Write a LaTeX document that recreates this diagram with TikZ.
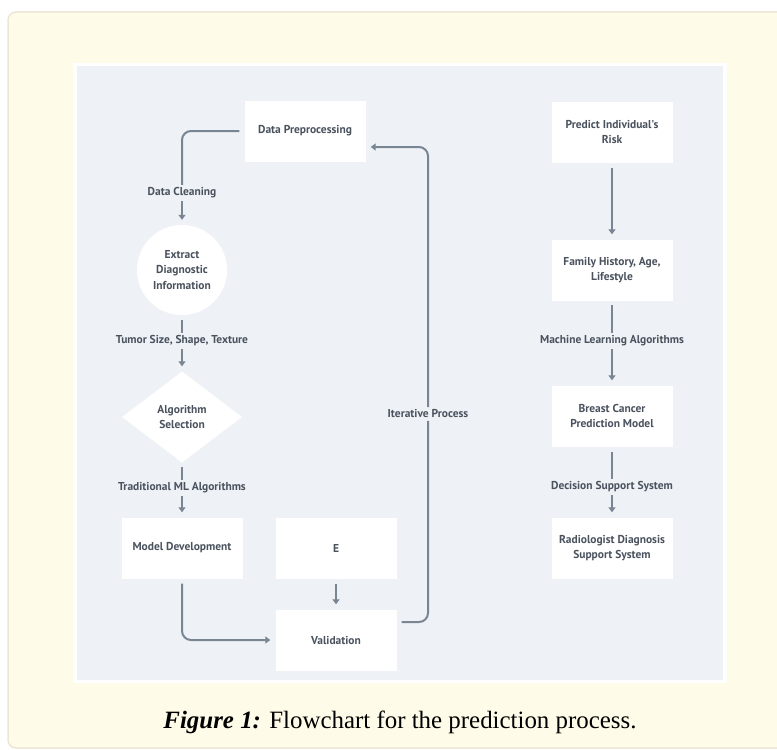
\documentclass[tikz,border=0pt]{standalone}
\usepackage{fontspec}
\setmainfont{Liberation Serif}
\newfontfamily\flowfont{PT Sans}
\usetikzlibrary{arrows.meta,shapes.geometric}
\definecolor{cream}{HTML}{FFFBE9}
\definecolor{creamline}{HTML}{ECE7D5}
\definecolor{panel}{HTML}{EEF2F6}
\definecolor{flowline}{HTML}{7A8593}
\definecolor{flowtext}{HTML}{4A525E}

\begin{document}
\begin{tikzpicture}[
        x=1bp, y=-1bp,
        every node/.style={font=\flowfont\bfseries\fontsize{11.5}{15.5}\selectfont,
            text=flowtext},
        box/.style={fill=white, minimum width=121bp, minimum height=61bp,
            inner sep=2bp, align=center},
        roundbox/.style={circle, fill=white, minimum size=90bp, inner sep=0pt,
            align=center},
        choice/.style={diamond, fill=white, aspect=1.32, minimum width=120bp,
            minimum height=91bp, inner sep=0pt, align=center},
        tag/.style={fill=panel, inner sep=2.5bp},
        line/.style={draw=flowline, line width=2bp, rounded corners=9bp},
        arrow/.style={line, -{Triangle[length=5bp,width=7bp]}, shorten >=5bp},
    ]
    % frame
    \useasboundingbox (0,0) rectangle (777,750);
    \clip (0,0) rectangle (777,750);
    \filldraw[fill=cream, draw=creamline, line width=1.5bp, rounded corners=8bp]
                (8,12) rectangle (800,748);
    \fill[white] (73,63) rectangle (727,683);
    \fill[panel] (77,66) rectangle (723,680);

    % left column
    \node[box] (prep) at (305,131) {Data Preprocessing};
    \node[roundbox] (extract) at (182,270) {Extract\\Diagnostic\\Information};
    \node[choice] (select) at (182,417) {Algorithm\\Selection};
    \node[box] (model) at (182,548) {Model Development};
    \node[box] (eval) at (336,548) {E};
    \node[box] (valid) at (336,640) {Validation};

    \node[tag] (clean) at (182,193) {Data Cleaning};
    \node[tag] (tumor) at (182,341) {Tumor Size, Shape, Texture};
    \node[tag] (trad) at (182,488) {Traditional ML Algorithms};

    % right column
    \node[box] (risk) at (612,132) {Predict Individual's\\Risk};
    \node[box] (history) at (612,270) {Family History, Age,\\Lifestyle};
    \node[box] (predict) at (612,416) {Breast Cancer\\Prediction Model};
    \node[box] (support) at (612,548) {Radiologist Diagnosis\\Support System};

    \node[tag] (mla) at (612,341) {Machine Learning Algorithms};
    \node[tag] (dss) at (612,487) {Decision Support System};

    % left flow
    \draw[line, shorten <=5bp] (prep.west) -| (clean.north);
    \draw[arrow] (clean.south) -- (extract.north);
    \draw[line, shorten <=5bp] (extract.south) -- (tumor.north);
    \draw[arrow] (tumor.south) -- (select.north);
    \draw[line, shorten <=4bp] (select.south) -- (trad.north);
    \draw[arrow] (trad.south) -- (model.north);
    \draw[arrow, shorten <=5bp] (model.south) |- (valid.west);
    \draw[arrow, shorten <=5bp] (eval.south) -- (valid.north);

    % iterative loop
    \node[tag] (iter) at (428,414) {Iterative Process};
    \draw[line, shorten <=5bp] ([yshift=18bp]valid.east) -| (iter.south);
    \draw[arrow] (iter.north) |- ([yshift=-16bp]prep.east);

    % right flow
    \draw[arrow, shorten <=5bp] (risk.south) -- (history.north);
    \draw[line, shorten <=4bp] (history.south) -- (mla.north);
    \draw[arrow] (mla.south) -- (predict.north);
    \draw[line, shorten <=5bp] (predict.south) -- (dss.north);
    \draw[arrow] (dss.south) -- (support.north);

    % caption
    \node[font=\rmfamily\fontsize{25}{28}\selectfont, text=black, anchor=base]
                (caption) at (400,728)
                {\textbf{\textit{Figure 1:}} Flowchart for the prediction process.};
\end{tikzpicture}
\end{document}
